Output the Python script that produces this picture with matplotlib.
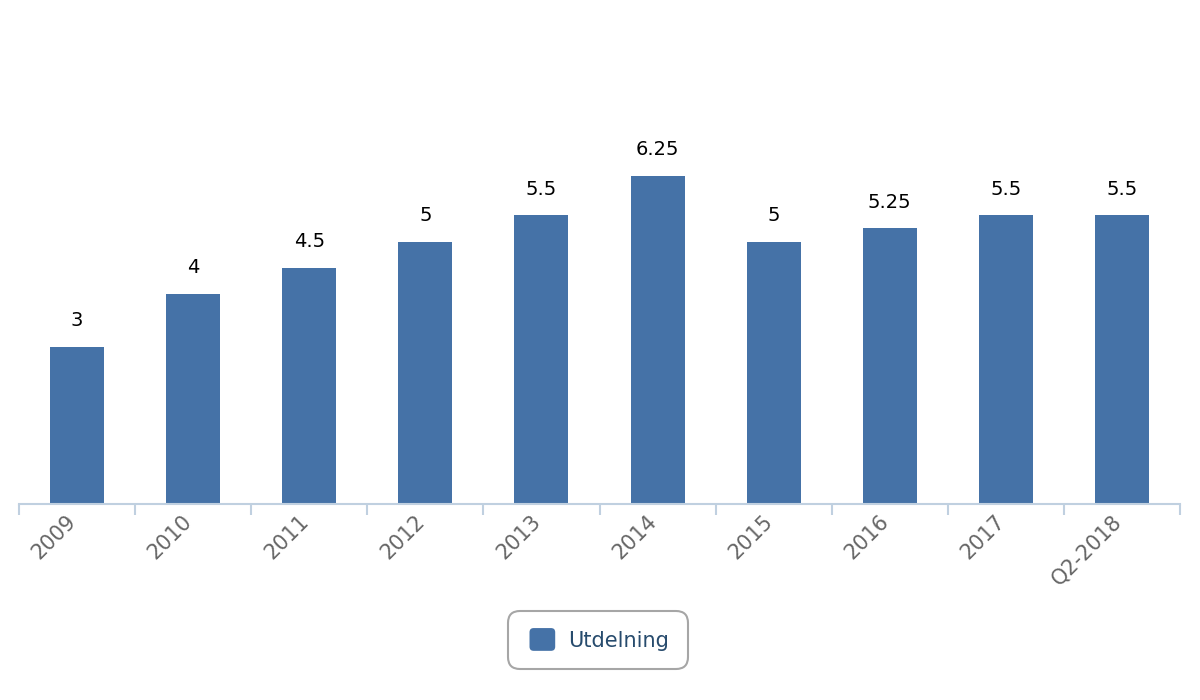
import matplotlib; matplotlib.use("Agg")
import matplotlib.pyplot as plt
import matplotlib.transforms as mtrans
from matplotlib.patches import FancyBboxPatch
from matplotlib.legend_handler import HandlerPatch
from matplotlib.container import BarContainer
import numpy as np

categories = ["2009", "2010", "2011", "2012", "2013", "2014", "2015", "2016", "2017", "Q2-2018"]
utdelning = [3, 4, 4.5, 5, 5.5, 6.25, 5, 5.25, 5.5, 5.5]
labels = ["3", "4", "4.5", "5", "5.5", "6.25", "5", "5.25", "5.5", "5.5"]

BAR = "#4572a7"
AXIS = "#c0d0e0"


class RoundHandle(HandlerPatch):
    # rounded square legend symbol
    def create_artists(self, legend, orig, xd, yd, w, h, fs, trans):
        p = FancyBboxPatch((-xd + 2, -yd - 1), w - 4, h + 2, boxstyle="round,pad=0,rounding_size=3",
                           facecolor=BAR, edgecolor="none", transform=trans)
        return [p]


fig = plt.figure(figsize=(12, 7), dpi=100)
ax = fig.add_axes([19/1200, 196/700, 1161/1200, 420/700])
x = np.arange(len(categories))
bars = ax.bar(x, utdelning, width=54/116, color=BAR, label="Utdelning", zorder=2)
ax.set_xlim(-0.5, len(categories) - 0.5)
ax.set_ylim(0, 8)

for b, t in zip(bars, labels):
    ax.annotate(t, (b.get_x() + b.get_width()/2, b.get_height()), xytext=(0, 12),
                textcoords="offset points", ha="center", va="bottom",
                fontsize=14, color="black")

for s in ["top", "right", "left"]:
    ax.spines[s].set_visible(False)
ax.spines["bottom"].set_color(AXIS)
ax.spines["bottom"].set_linewidth(1.5)
ax.set_yticks([])

# ticks sit at category boundaries, labels at centres
ax.set_xticks(np.arange(len(categories) + 1) - 0.5)
ax.set_xticklabels([])
ax.tick_params(axis="x", which="major", color=AXIS, length=8, width=1.5, direction="out")
ax.set_xticks(x, minor=True)
ax.set_xticklabels(categories, minor=True, rotation=45, ha="right", rotation_mode="anchor",
                   fontsize=15, color="#666666")
ax.tick_params(axis="x", which="minor", length=0, pad=5)
shift = mtrans.ScaledTranslation(-11/100, 0, fig.dpi_scale_trans)
for lab in ax.get_xticklabels(minor=True):
    lab.set_transform(lab.get_transform() + shift)

leg = fig.legend(loc="center", bbox_to_anchor=(598/1200, 1 - 640/700), frameon=True,
                 fontsize=15, handlelength=1.5, handleheight=1.1, borderpad=0.7,
                 handletextpad=0.5, fancybox=True, edgecolor="#909090", labelcolor="#274b6d",
                 handler_map={BarContainer: RoundHandle()})
leg.get_frame().set_linewidth(1.5)
leg.get_frame().set_boxstyle("round", pad=0.2, rounding_size=0.6)

fig.savefig("out.png", dpi=100)
